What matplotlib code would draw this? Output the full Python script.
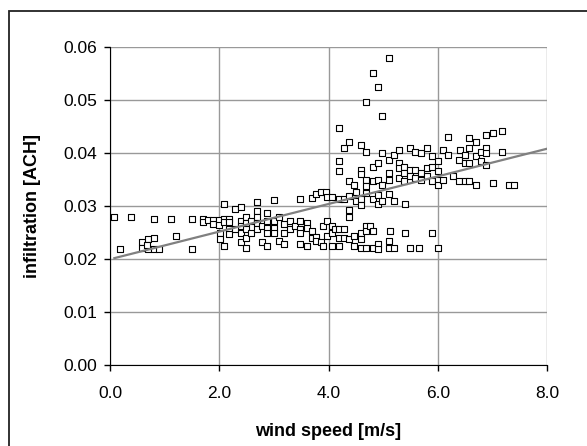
import numpy as np
import matplotlib
matplotlib.use("Agg")
import matplotlib.pyplot as plt
from matplotlib.patches import Rectangle

plt.rcParams['font.family'] = ['Liberation Sans', 'DejaVu Sans']

# wind speed [m/s] and infiltration [ACH]
wind = [0.08, 0.38, 0.19, 0.80, 1.11, 1.50, 1.20, 1.50, 0.59, 0.69, 0.80, 0.59, 0.69, 0.80, 0.90, 0.67,
        1.70, 1.70, 1.79, 1.89, 1.89, 1.99, 1.99, 2.09, 2.09, 2.09, 2.18, 2.18, 2.01, 2.01, 2.09, 2.18, 2.18,
        2.29, 2.39, 2.39, 2.39, 2.39, 2.39, 2.49, 2.49, 2.49, 2.49, 2.49, 2.29, 2.58, 2.58,
        2.69, 2.69, 2.69, 2.69, 2.69, 2.78, 2.78, 2.88, 2.88, 2.88, 2.88, 2.88,
        3.00, 3.00, 3.00, 3.00, 3.09, 3.09, 3.19, 3.19, 3.19, 3.30, 3.30, 3.39,
        3.47, 3.47, 3.47, 3.47, 3.47, 3.61, 3.61, 3.61, 3.69, 3.69, 3.69, 3.78, 3.78, 3.78,
        3.87, 3.87, 3.90, 3.95, 3.98, 3.98, 3.98, 3.90, 4.07, 4.07, 4.07, 4.07, 4.12,
        4.19, 4.19, 4.19, 4.19, 4.20, 4.20, 4.20, 4.29, 4.29, 4.29, 4.29,
        4.38, 4.38, 4.38, 4.38, 4.38, 4.38, 4.46, 4.46, 4.46, 4.50, 4.50,
        4.59, 4.59, 4.59, 4.59, 4.59, 4.59, 4.59, 4.59,
        4.68, 4.68, 4.68, 4.68, 4.68, 4.68, 4.68, 4.68, 4.76,
        4.81, 4.81, 4.81, 4.81, 4.81, 4.81,
        4.90, 4.90, 4.90, 4.90, 4.90, 4.90, 4.90,
        4.98, 4.98, 4.98, 4.98,
        5.10, 5.10, 5.10, 5.10, 5.10, 5.12, 5.10, 5.10,
        5.19, 5.19, 5.19, 5.29, 5.29, 5.29, 5.29, 5.39, 5.39, 5.39, 5.40, 5.40,
        5.49, 5.49, 5.49, 5.49, 5.58, 5.58, 5.58, 5.65, 5.70, 5.70, 5.70,
        5.80, 5.80, 5.80, 5.89, 5.89, 5.89, 5.89, 6.01, 6.01, 6.01, 6.01, 6.01,
        6.09, 6.09, 6.18, 6.18, 6.28, 6.39, 6.39, 6.41, 6.49, 6.49, 6.49,
        6.57, 6.57, 6.57, 6.57, 6.70, 6.70, 6.70, 6.80, 6.80,
        6.88, 6.88, 6.88, 6.88, 7.01, 7.01, 7.18, 7.18, 7.30, 7.40]
infil = [0.0279, 0.0279, 0.0218, 0.0276, 0.0276, 0.0276, 0.0243, 0.0218, 0.0231, 0.0237, 0.0240, 0.0220, 0.0218, 0.0218, 0.0218, 0.0226,
         0.0276, 0.0270, 0.0274, 0.0273, 0.0265, 0.0273, 0.0263, 0.0304, 0.0276, 0.0269, 0.0276, 0.0269, 0.0249, 0.0237, 0.0225, 0.0256, 0.0246,
         0.0294, 0.0298, 0.0271, 0.0262, 0.0249, 0.0231, 0.0278, 0.0268, 0.0256, 0.0240, 0.0221, 0.0256, 0.0271, 0.0249,
         0.0307, 0.0290, 0.0278, 0.0268, 0.0256, 0.0262, 0.0231, 0.0287, 0.0271, 0.0259, 0.0249, 0.0225,
         0.0310, 0.0271, 0.0259, 0.0249, 0.0278, 0.0234, 0.0265, 0.0249, 0.0228, 0.0271, 0.0256, 0.0262,
         0.0313, 0.0271, 0.0256, 0.0249, 0.0228, 0.0268, 0.0259, 0.0225, 0.0315, 0.0253, 0.0240, 0.0323, 0.0242, 0.0234,
         0.0326, 0.0231, 0.0262, 0.0326, 0.0317, 0.0271, 0.0243, 0.0225, 0.0317, 0.0262, 0.0249, 0.0225, 0.0256,
         0.0312, 0.0256, 0.0240, 0.0225, 0.0446, 0.0384, 0.0365, 0.0409, 0.0312, 0.0256, 0.0240,
         0.0421, 0.0346, 0.0318, 0.0292, 0.0279, 0.0237, 0.0340, 0.0243, 0.0225, 0.0326, 0.0309,
         0.0415, 0.0368, 0.0359, 0.0312, 0.0302, 0.0249, 0.0237, 0.0221,
         0.0495, 0.0402, 0.0349, 0.0337, 0.0324, 0.0262, 0.0253, 0.0221, 0.0262,
         0.0550, 0.0374, 0.0346, 0.0312, 0.0253, 0.0221,
         0.0523, 0.0380, 0.0349, 0.0321, 0.0304, 0.0228, 0.0218,
         0.0470, 0.0399, 0.0340, 0.0309,
         0.0578, 0.0387, 0.0362, 0.0349, 0.0323, 0.0253, 0.0234, 0.0220,
         0.0396, 0.0309, 0.0221, 0.0405, 0.0380, 0.0371, 0.0352, 0.0374, 0.0362, 0.0346, 0.0304, 0.0249,
         0.0409, 0.0368, 0.0356, 0.0221, 0.0402, 0.0368, 0.0352, 0.0221, 0.0399, 0.0362, 0.0349,
         0.0409, 0.0371, 0.0356, 0.0393, 0.0374, 0.0346, 0.0249, 0.0221, 0.0384, 0.0365, 0.0349, 0.0340,
         0.0405, 0.0349, 0.0430, 0.0396, 0.0356, 0.0387, 0.0346, 0.0405, 0.0396, 0.0380, 0.0346,
         0.0427, 0.0409, 0.0380, 0.0346, 0.0421, 0.0393, 0.0340, 0.0402, 0.0384,
         0.0433, 0.0409, 0.0399, 0.0377, 0.0437, 0.0343, 0.0440, 0.0402, 0.0340, 0.0340]

x_ticks = [0, 2, 4, 6, 8]
y_ticks = [0.00, 0.01, 0.02, 0.03, 0.04, 0.05, 0.06]

fig = plt.figure(figsize=(5.87, 4.46), dpi=100)
ax = fig.add_axes([0.1874, 0.1816, 0.7445, 0.714])

# outer chart border (runs past the right and bottom edges)
fig.patches.append(Rectangle((0.0153, -0.05), 1.1, 1.025, transform=fig.transFigure,
                             fill=False, edgecolor='#222222', linewidth=1.3))

ax.scatter(wind, infil, marker='s', s=15, facecolors='white', edgecolors='black', linewidths=0.8, zorder=3)

# linear trend line
k, b = np.polyfit(wind, infil, 1)
xs = np.array([min(wind), 8.0])
ax.plot(xs, k * xs + b, color='#808080', linewidth=1.6, zorder=4)

ax.set_xlim(0, 8)
ax.set_ylim(0, 0.06)
ax.set_xticks(x_ticks)
ax.set_yticks(y_ticks)
ax.set_xticklabels(['%.1f' % v for v in x_ticks], fontsize=12.5)
ax.set_yticklabels(['%.2f' % v for v in y_ticks], fontsize=12.5)
ax.grid(True, color='#999999', linewidth=1)
ax.set_axisbelow(True)
ax.spines['top'].set_visible(False)
ax.spines['right'].set_visible(False)
ax.tick_params(direction='out', length=4, width=1)
ax.tick_params(axis='x', pad=11)
ax.tick_params(axis='y', pad=5)
ax.set_xlabel('wind speed [m/s]', fontsize=13, fontweight='bold', va='center')
ax.set_ylabel('infiltration [ACH]', fontsize=13, fontweight='bold', va='center')
ax.xaxis.set_label_coords(0.5, -0.21)
ax.yaxis.set_label_coords(-0.178, 0.5)

fig.savefig('out.png', dpi=100)
